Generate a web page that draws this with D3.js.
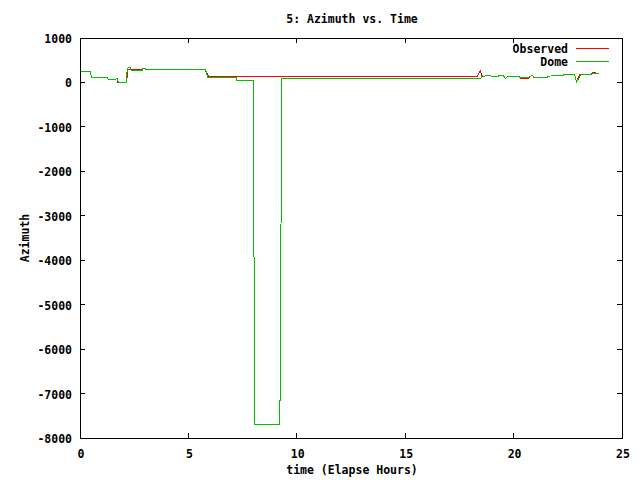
<!DOCTYPE html>
<html><head><meta charset="utf-8">
<script src="https://cdn.jsdelivr.net/npm/d3@7"></script>
<style>body{margin:0;background:#fff}svg text{font-family:"DejaVu Sans Mono",monospace;font-weight:bold;font-size:11.5px;fill:#000}</style>
</head><body><svg id="c" width="640" height="480"></svg>
<script>
const title = "5: Azimuth vs. Time";
const xLabel = "time (Elapse Hours)";
const yLabel = "Azimuth";
const xTicks = [0, 5, 10, 15, 20, 25];
const yTicks = [-8000, -7000, -6000, -5000, -4000, -3000, -2000, -1000, 0, 1000];
const seriesNames = ["Observed", "Dome"];
const seriesColors = ["#ff0000", "#00c000"];

const obsTime = [0,0.49,0.52,1.25,1.32,1.57,1.7,1.74,2.15,2.2,2.25,2.87,2.9,3.0,3.05,5.79,5.92,18.34,18.46,18.54,18.65,18.85,18.95,19.3,19.35,19.5,19.62,19.72,20.25,20.3,20.7,20.85,20.95,21.56,21.6,22.28,22.3,22.82,22.9,23.05,23.6,23.63,23.93];
const obsAz   = [240,240,106,106,60,60,90,0,0,280,300,280,317,317,290,280,140,140,265,144,140,160,144,144,166,166,92,128,128,100,100,166,110,121,144,150,173,173,9,190,190,215,210];

const domeTime = [0,0.49,0.52,1.25,1.32,1.57,1.7,1.72,1.78,2.15,2.17,2.22,2.32,2.35,2.87,2.9,3.0,3.05,5.79,5.9,7.2,7.24,7.98,8.07,9.22,9.31,18.48,18.55,18.65,18.85,18.95,19.3,19.35,19.5,19.62,19.72,20.25,20.3,20.7,20.85,20.95,21.56,21.6,22.28,22.3,22.82,22.9,23.1,23.6,23.63,23.93];
const domeAz   = [240,240,106,106,60,60,90,90,0,0,250,340,340,280,280,317,317,290,280,115,115,47,47,-7690,-7690,92,92,150,140,160,144,144,166,166,92,128,128,115,115,166,121,121,144,150,173,173,9,170,180,205,205];

const L=80,R=622,T=38,B=438;
const svg=d3.select("#c");
const x=d3.scaleLinear().domain([0,25]).range([L,R]);
const y=d3.scaleLinear().domain([-8000,1000]).range([B,T]);

const g=svg.append("g").attr("stroke","#000").attr("stroke-width",1).attr("shape-rendering","crispEdges");
xTicks.forEach(t=>{
  if(t>0&&t<25){
    g.append("line").attr("x1",x(t)).attr("x2",x(t)).attr("y1",B).attr("y2",B-5);
    g.append("line").attr("x1",x(t)).attr("x2",x(t)).attr("y1",T).attr("y2",T+5);
  }
});
yTicks.forEach(t=>{
  if(t>-8000&&t<1000){
    g.append("line").attr("x1",L).attr("x2",L+5).attr("y1",y(t)).attr("y2",y(t));
    g.append("line").attr("x1",R).attr("x2",R-5).attr("y1",y(t)).attr("y2",y(t));
  }
});
xTicks.forEach(t=>svg.append("text").attr("x",x(t)+1).attr("y",B+20).attr("text-anchor","middle").text(t));
yTicks.forEach(t=>svg.append("text").attr("x",L-8).attr("y",y(t)+5).attr("text-anchor","end").text(t));

const line=d3.line().x(d=>x(d[0])).y(d=>y(d[1]));
const obs=obsTime.map((t,i)=>[t,obsAz[i]]);
const dome=domeTime.map((t,i)=>[t,domeAz[i]]);
svg.append("path").attr("d",line(obs)).attr("fill","none").attr("stroke",seriesColors[0]).attr("stroke-width",1).attr("shape-rendering","crispEdges");
svg.append("path").attr("d",line(dome)).attr("fill","none").attr("stroke",seriesColors[1]).attr("stroke-width",1).attr("shape-rendering","crispEdges");

svg.append("rect").attr("x",L).attr("y",T).attr("width",R-L).attr("height",B-T).attr("fill","none").attr("stroke","#000").attr("shape-rendering","crispEdges");

seriesNames.forEach((n,i)=>{
  const ly=48.5+i*13;
  svg.append("text").attr("x",568).attr("y",ly+4.5).attr("text-anchor","end").text(n);
  svg.append("line").attr("x1",576).attr("x2",609).attr("y1",ly).attr("y2",ly).attr("stroke",seriesColors[i]).attr("stroke-width",1);
});

svg.append("text").attr("x",352).attr("y",23).attr("text-anchor","middle").text(title);
svg.append("text").attr("x",352).attr("y",474).attr("text-anchor","middle").text(xLabel);
svg.append("text").attr("transform","translate(29,238) rotate(-90)").attr("text-anchor","middle").text(yLabel);
</script></body></html>
